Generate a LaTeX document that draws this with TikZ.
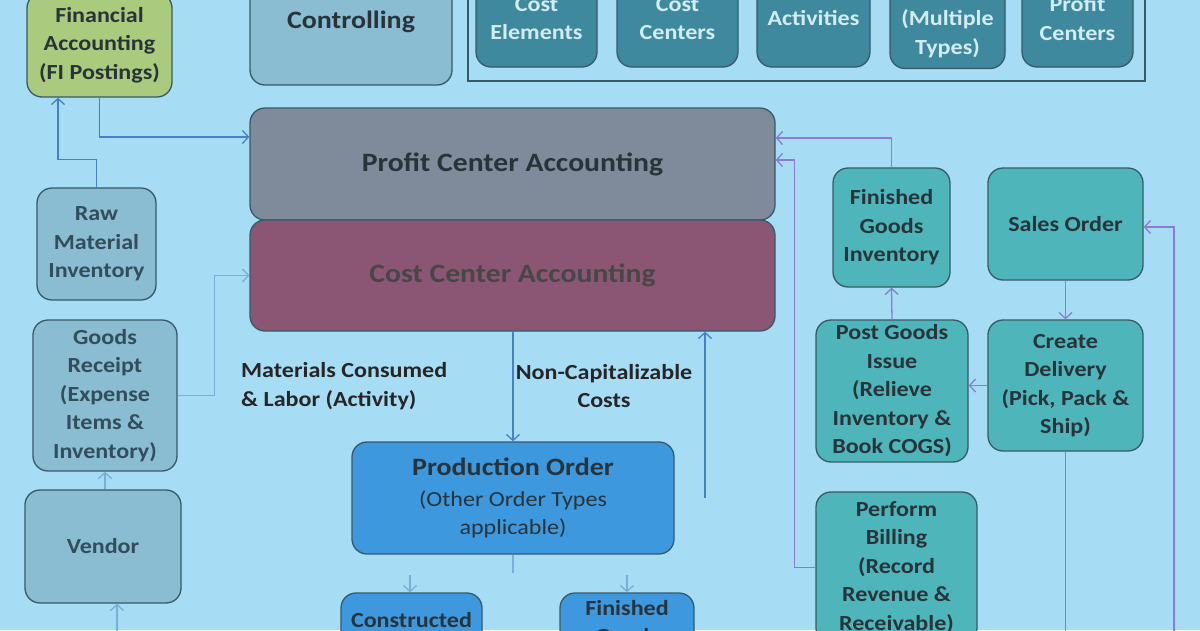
\documentclass[tikz,border=0pt]{standalone}
\usepackage{fontspec}
\setmainfont{Carlito}[FakeStretch=1.12]
\usetikzlibrary{arrows.meta}

\definecolor{bgblue}{RGB}{166,221,245}
\definecolor{boxline}{RGB}{55,90,105}
\definecolor{fifill}{RGB}{170,202,125}
\definecolor{coblue}{RGB}{138,188,210}
\definecolor{pcafill}{RGB}{127,139,155}
\definecolor{ccafill}{RGB}{139,86,116}
\definecolor{pofill}{RGB}{62,152,222}
\definecolor{sdfill}{RGB}{78,182,186}
\definecolor{mdfill}{RGB}{62,137,158}
\definecolor{mdtext}{RGB}{210,236,244}
\definecolor{txtdark}{RGB}{40,52,58}
\definecolor{txtgray}{RGB}{50,78,92}
\definecolor{flowblue}{RGB}{72,128,200}
\definecolor{flowlight}{RGB}{120,175,212}
\definecolor{flowpurple}{RGB}{140,122,212}

\tikzset{
  box/.style={draw=boxline, line width=1.3pt, rounded corners=15pt, align=center,
    inner sep=0pt, text=txtdark, font=\bfseries\fontsize{21.5}{28.5}\selectfont},
  mdbox/.style={box, fill=mdfill, text=mdtext},
  cobox/.style={box, fill=coblue, text=txtgray},
  sdbox/.style={box, fill=sdfill},
  lbl/.style={align=center, inner sep=0pt, text=black!85, font=\bfseries\fontsize{21.5}{28.5}\selectfont},
  arr/.style={-{Straight Barb[length=6pt,width=13pt]}},
  fiflow/.style={flowblue, line width=1.3pt},
  coflow/.style={flowlight, line width=1.3pt},
  sdflow/.style={flowpurple, line width=1.3pt}
}

\begin{document}
\begin{tikzpicture}[x=1pt,y=-1pt]
\useasboundingbox (0,0) rectangle (1200,630);
\begin{scope}
  \clip (0,0) rectangle (1200,630);
  \fill[bgblue] (0,0) rectangle (1200,630);

  % top row
  \node[box, fill=fifill, minimum width=145, minimum height=104] (fi) at (99.5,45) {Financial\\Accounting\\(FI Postings)};
  \node[cobox, text=txtdark, minimum width=202, minimum height=126, font=\bfseries\fontsize{25}{30}\selectfont] (co) at (351,22) {Controlling};

  % master data
  \draw[boxline, line width=1.2pt] (468,-20) rectangle (1145,81);
  \node[mdbox, minimum width=121, minimum height=97] (costel) at (536.5,18.5) {Cost\\Elements};
  \node[mdbox, minimum width=121, minimum height=97] (costctr) at (677.5,18.5) {Cost\\Centers};
  \node[mdbox, minimum width=113, minimum height=97] (act) at (813.5,18.5) {Activities};
  \node[mdbox, minimum width=115, minimum height=97] (ord) at (947.5,20) {Orders\\(Multiple\\Types)};
  \node[mdbox, minimum width=111, minimum height=97] (prctr) at (1077.5,18.5) {Profit\\Centers};

  % accounting
  \node[box, fill=pcafill, minimum width=525, minimum height=112, font=\bfseries\fontsize{26.5}{30}\selectfont] (pca) at (512.5,164) {Profit Center Accounting};
  \node[box, fill=ccafill, text=black!72, minimum width=525, minimum height=111, font=\bfseries\fontsize{26.5}{30}\selectfont] (cca) at (512.5,275.5) {Cost Center Accounting};

  % procurement
  \node[cobox, minimum width=119, minimum height=112] (raw) at (96.5,244) {Raw\\Material\\Inventory};
  \node[cobox, minimum width=144, minimum height=151] (gr) at (105,395.5) {Goods\\Receipt\\(Expense\\Items \&\\Inventory)};
  \node[cobox, minimum width=156, minimum height=113] (vend) at (103,546.5) {Vendor};

  % production
  \node[box, fill=pofill, minimum width=322, minimum height=112] (po) at (513,498)
    {{\fontsize{25}{30}\selectfont Production Order}\\[2pt]\mdseries (Other Order Types\\\mdseries applicable)};
  \node[box, fill=pofill, minimum width=141, minimum height=54] (cg) at (411.5,620) {Constructed};
  \node[box, fill=pofill, minimum width=134, minimum height=58] (fg) at (627,622) {Finished\\Goods};
  \node[lbl, anchor=west, align=left] (matlbl) at (241,386) {Materials Consumed\\\& Labor (Activity)};
  \node[lbl] (nclbl) at (604,386) {Non-Capitalizable\\Costs};

  % sales
  \node[sdbox, minimum width=117, minimum height=119] (fgi) at (891.5,227.5) {Finished\\Goods\\Inventory};
  \node[sdbox, minimum width=155, minimum height=112] (so) at (1065.5,224) {Sales Order};
  \node[sdbox, minimum width=152, minimum height=142] (pgi) at (892,391) {Post Goods\\Issue\\(Relieve\\Inventory \&\\Book COGS)};
  \node[sdbox, minimum width=155, minimum height=131] (cd) at (1065.5,385.5) {Create\\Delivery\\(Pick, Pack \&\\Ship)};
  \node[sdbox, minimum width=161, minimum height=151] (bill) at (896.5,567.5) {Perform\\Billing\\(Record\\Revenue \&\\Receivable)};

  \coordinate (vendin) at (117,640);
  \coordinate (ncret) at (705,498);
  \coordinate (split) at (513,573);
  \coordinate (cgin) at (410,575);
  \coordinate (fgin) at (627,575);
  \coordinate (soin) at (1174,640);

  % FI postings
  \draw[fiflow, arr] (raw.north) -- ++(0,-28) -| ([xshift=-41.5pt]fi.south);
  \draw[fiflow, arr] (fi.south) |- ([yshift=27pt]pca.west);
  \draw[coflow, arr] (gr.east) -- ++(37,0) |- (cca.west);
  \draw[coflow, arr] (vend.north -| gr.south) -- (gr.south);
  \draw[coflow, arr] (vendin) -- (vendin |- vend.south);

  % production flow
  \draw[fiflow, arr] (cca.south -| po.north) -- (po.north);
  \draw[fiflow, arr] (ncret) -- (ncret |- cca.south);
  \draw[coflow] (po.south) -- (split);
  \draw[coflow, arr] (cgin) -- (cgin |- cg.north);
  \draw[coflow, arr] (fgin) -- (fgin |- fg.north);

  % sales flow
  \draw[sdflow, arr] (fgi.north) |- ([yshift=26pt]pca.east);
  \draw[sdflow, arr] (bill.west) -- ++(-21,0) |- ([yshift=4pt]pca.east);
  \draw[sdflow, arr] (pgi.north) -- (fgi.south);
  \draw[sdflow, arr] (so.south) -- (cd.north);
  \draw[sdflow, arr] (cd.west) -- (cd.west -| pgi.east);
  \draw[sdflow] (cd.south) -- ++(0,200);
  \draw[sdflow, arr] (soin) |- ([yshift=-3pt]so.east);
\end{scope}
\end{tikzpicture}
\end{document}
